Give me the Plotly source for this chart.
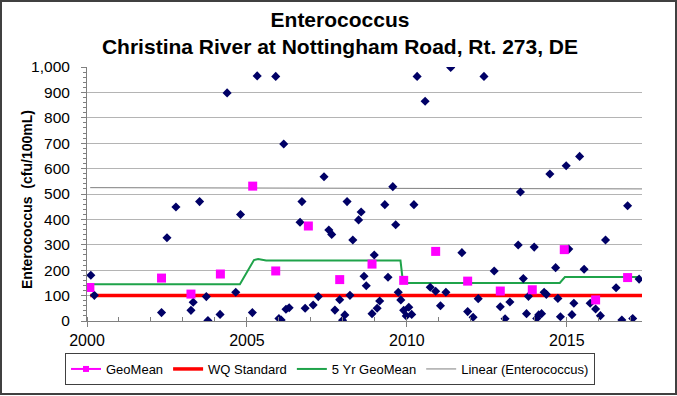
import plotly.graph_objects as go

# ---- data (decimal years) ----
sample_years = [2000.12, 2000.23, 2002.33, 2002.50, 2002.78, 2003.25, 2003.32, 2003.52, 2003.73, 2003.78,
                2004.16, 2004.38, 2004.65, 2004.80, 2005.17, 2005.32, 2005.90, 2006.00, 2006.07, 2006.15,
                2006.22, 2006.32, 2006.66, 2006.72, 2006.82, 2007.07, 2007.23, 2007.41, 2007.56, 2007.65,
                2007.75, 2007.90, 2007.99, 2008.06, 2008.13, 2008.22, 2008.31, 2008.49, 2008.57, 2008.66,
                2008.73, 2008.91, 2008.98, 2009.07, 2009.15, 2009.31, 2009.41, 2009.56, 2009.65, 2009.73,
                2009.81, 2009.90, 2009.98, 2010.06, 2010.15, 2010.22, 2010.32, 2010.57, 2010.73, 2010.90,
                2011.05, 2011.22, 2011.37, 2011.72, 2011.90, 2012.07, 2012.23, 2012.41, 2012.73, 2012.92,
                2013.07, 2013.22, 2013.48, 2013.55, 2013.64, 2013.74, 2013.80, 2013.98, 2014.06, 2014.12,
                2014.21, 2014.29, 2014.36, 2014.47, 2014.65, 2014.72, 2014.80, 2014.98, 2015.06, 2015.16,
                2015.22, 2015.40, 2015.54, 2015.73, 2015.90, 2016.05, 2016.21, 2016.54, 2016.72, 2016.90,
                2017.06, 2017.26]
sample_vals = [180, 101, 33, 328, 449, 42, 74, 470, 96, 2,
               26, 898, 113, 419, 33, 965, 963, 10, 4, 697,
               46, 52, 389, 470, 50, 63, 96, 568, 358, 341,
               43, 84, 3, 24, 470, 101, 319, 398, 429, 176,
               139, 29, 260, 50, 79, 458, 172, 529, 379, 113,
               83, 42, 20, 54, 26, 458, 963, 865, 133, 117,
               60, 113, 998, 269, 37, 15, 88, 963, 197, 56,
               9, 75, 299, 508, 167, 29, 97, 291, 10, 24,
               29, 113, 105, 579, 210, 89, 17, 611, 283, 25,
               70, 648, 204, 70, 47, 21, 319, 131, 4, 454,
               10, 165]

geomean_years = [2000.09, 2002.33, 2003.25, 2004.17, 2005.18, 2005.90, 2006.92, 2007.90, 2008.91,
                 2009.90, 2010.90, 2011.90, 2012.92, 2013.92, 2014.92, 2015.90, 2016.90]
geomean_vals = [132, 169, 106, 185, 531, 197, 374, 163, 224, 160, 274, 157, 118, 123, 281, 83, 171]

wq_years = [2000.1, 2017.35]
wq_vals = [100, 100]

gm5_years = [2000.1, 2004.78, 2005.22, 2005.35, 2005.6, 2009.8, 2009.88, 2014.78, 2014.94, 2017.25]
gm5_vals = [145, 145, 240, 244, 238, 238, 150, 150, 173, 173]

trend_years = [2000.1, 2017.35]
trend_vals = [525, 520]

x_ticks = [2000, 2005, 2010, 2015]
y_ticks = [0, 100, 200, 300, 400, 500, 600, 700, 800, 900, 1000]

FONT = "Liberation Sans, Arial, sans-serif"
MAGENTA = "#ff00ff"

fig = go.Figure()
fig.add_trace(go.Scatter(x=trend_years, y=trend_vals, mode="lines", name="Linear (Enterococcus)",
                         line=dict(color="#7f7f7f", width=1), legendrank=4))
fig.add_trace(go.Scatter(x=wq_years, y=wq_vals, mode="lines", name="WQ Standard",
                         line=dict(color="#ff0000", width=3.5), legendrank=2))
fig.add_trace(go.Scatter(x=gm5_years, y=gm5_vals, mode="lines", name="5 Yr GeoMean",
                         line=dict(color="#1fa34a", width=2), legendrank=3))
fig.add_trace(go.Scatter(x=sample_years, y=sample_vals, mode="markers", name="Enterococcus",
                         showlegend=False,
                         marker=dict(symbol="diamond", size=7, color="#000066")))
fig.add_trace(go.Scatter(x=geomean_years, y=geomean_vals, mode="markers", name="GeoMean",
                         showlegend=False, legendgroup="gm",
                         marker=dict(symbol="square", size=9, color=MAGENTA)))
# legend entry for GeoMean (Excel shows a line-with-marker key)
fig.add_trace(go.Scatter(x=[None], y=[None], mode="lines+markers", name="GeoMean",
                         legendgroup="gm", legendrank=1,
                         line=dict(color=MAGENTA, width=2),
                         marker=dict(symbol="square", size=6, color=MAGENTA)))

L, R, T, B = 87, 35, 67, 75
W, H = 677, 396
pw, ph = W - L - R, H - T - B

fig.update_layout(
    width=W, height=H,
    margin=dict(l=L, r=R, t=T, b=B, autoexpand=False),
    paper_bgcolor="white", plot_bgcolor="white",
    font=dict(family=FONT, color="black"),
    title=dict(text="<b>Enterococcus<br>Christina River at Nottingham Road, Rt. 273, DE</b>",
               x=(340 - L) / pw, xref="paper", xanchor="center",
               y=1 - 27 / H, yref="container", yanchor="middle",
               font=dict(size=21, family=FONT), pad=dict(t=0, b=0)),
    legend=dict(orientation="h", x=(330 - L) / pw, xanchor="center",
                y=(T + ph - 369) / ph, yanchor="middle",
                bordercolor="#404040", borderwidth=1, bgcolor="white",
                font=dict(size=13, family=FONT), itemwidth=30, traceorder="normal"),
    xaxis=dict(range=[2000, 2017.35], tickvals=x_ticks, ticktext=[str(v) for v in x_ticks],
               automargin=False,
               showgrid=False, zeroline=False, showline=True, linecolor="#808080", linewidth=1,
               ticks="outside", ticklen=5, tickcolor="#808080",
               minor=dict(dtick=1, tick0=2000, ticks="inside", ticklen=4, tickcolor="#808080", showgrid=False),
               tickfont=dict(size=16, family=FONT)),
    yaxis=dict(range=[0, 1000], tickvals=y_ticks, tickformat=",",
               automargin=False,
               showgrid=True, gridcolor="#b4b4b4", gridwidth=1,
               zeroline=False, showline=True, linecolor="#808080", linewidth=1,
               ticks="outside", ticklen=5, tickcolor="#808080", ticklabelstandoff=8,
               minor=dict(dtick=20, ticks="outside", ticklen=3, tickcolor="#808080", showgrid=False),
               tickfont=dict(size=15.5, family=FONT)),
    annotations=[dict(text="<b>Enterococcus  (cfu/100mL)</b>", textangle=-90,
                      xref="paper", yref="paper", x=(27 - L) / pw, y=0.5 - 6 / ph,
                      xanchor="center", yanchor="middle", showarrow=False,
                      font=dict(size=14, family=FONT))],
    shapes=[dict(type="rect", xref="paper", yref="paper",
                 x0=(-L + 1) / pw, x1=(W - L - 1) / pw,
                 y0=(-B + 2) / ph, y1=(ph + T - 1) / ph,
                 line=dict(color="#404040", width=2), fillcolor="rgba(0,0,0,0)", layer="below")],
)

fig.write_html("out.html", config={"displayModeBar": False},
               post_script="document.body.style.margin='0';document.body.style.overflow='hidden';")
